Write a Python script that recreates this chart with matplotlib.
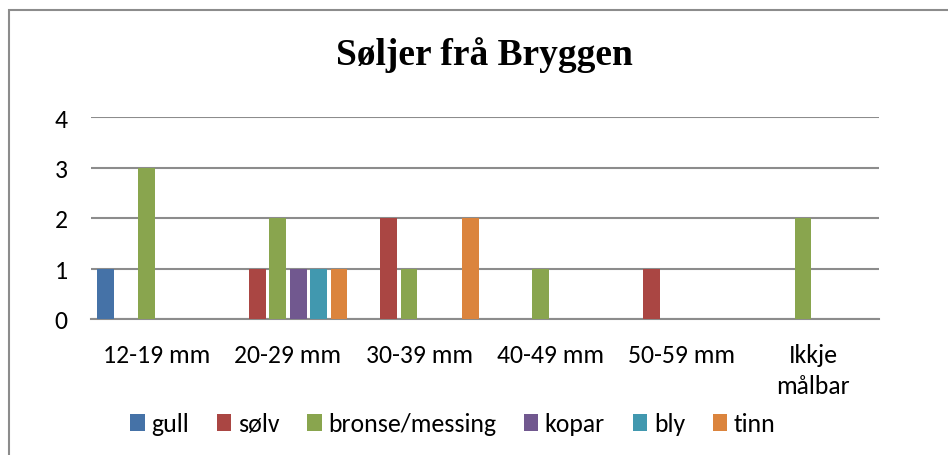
import matplotlib.pyplot as plt
import numpy as np
from matplotlib import font_manager
from matplotlib.patches import Rectangle

categories = ['12-19 mm', '20-29 mm', '30-39 mm', '40-49 mm', '50-59 mm', 'Ikkje\nmålbar']
series_names = ['gull', 'sølv', 'bronse/messing', 'kopar', 'bly', 'tinn']
gull = [1, 0, 0, 0, 0, 0]
solv = [0, 1, 2, 0, 1, 0]
bronse = [3, 2, 1, 1, 0, 2]
kopar = [0, 1, 0, 0, 0, 0]
bly = [0, 1, 0, 0, 0, 0]
tinn = [0, 1, 2, 0, 0, 0]
colors = ['#4572A7', '#AA4643', '#89A54E', '#71588F', '#4198AF', '#DB843D']

# Calibri-erstatning om den finst, elles Lato
installed = {f.name for f in font_manager.fontManager.ttflist}
if 'Carlito' in installed:
    base_font, fs = 'Carlito', 18.5
else:
    base_font, fs = 'Lato', 16.5
plt.rcParams['font.family'] = [base_font, 'DejaVu Sans']

fig = plt.figure(figsize=(9.48, 4.56), dpi=100)
ax = fig.add_axes([91 / 948, 1 - 320 / 456, 788 / 948, 202 / 456])

# ramme rundt heile figuren
fig.patches.append(Rectangle((9 / 948, -0.1), 1.2, 1 - 11 / 456 + 0.1,
                             transform=fig.transFigure, fill=False,
                             edgecolor='#8c8c8c', linewidth=1.5))

x = np.arange(len(categories))
slot = 0.156
width = 0.126
all_series = [gull, solv, bronse, kopar, bly, tinn]
for i, (name, vals) in enumerate(zip(series_names, all_series)):
    offset = (i - 2.5) * slot
    ax.bar(x + offset, vals, width, color=colors[i], label=name, zorder=3)

ax.set_xlim(-0.5, len(categories) - 0.5)
ax.set_ylim(0, 4)
ax.set_yticks([0, 1, 2, 3, 4])
ax.yaxis.grid(True, color='#8c8c8c', linewidth=1.5, zorder=0)
ax.set_axisbelow(True)
for s in ['top', 'right', 'left']:
    ax.spines[s].set_visible(False)
ax.spines['bottom'].set_color('#8c8c8c')
ax.spines['bottom'].set_linewidth(1.5)
ax.tick_params(axis='both', length=0, labelsize=fs)
ax.tick_params(axis='y', pad=17)
ax.tick_params(axis='x', pad=17)
ax.set_xticks(x)
ax.set_xticklabels(categories, linespacing=1.45)

fig.text(484 / 948, 1 - 55 / 456, 'Søljer frå Bryggen', ha='center', va='center',
         fontsize=27, fontweight='bold', family='Liberation Serif')

fig.legend(loc='center', bbox_to_anchor=(453 / 948, 1 - 425 / 456), ncol=6,
           frameon=False, fontsize=fs, handlelength=0.55, handleheight=0.6,
           handletextpad=0.25, columnspacing=1.1)

fig.savefig('out.png', dpi=100)
